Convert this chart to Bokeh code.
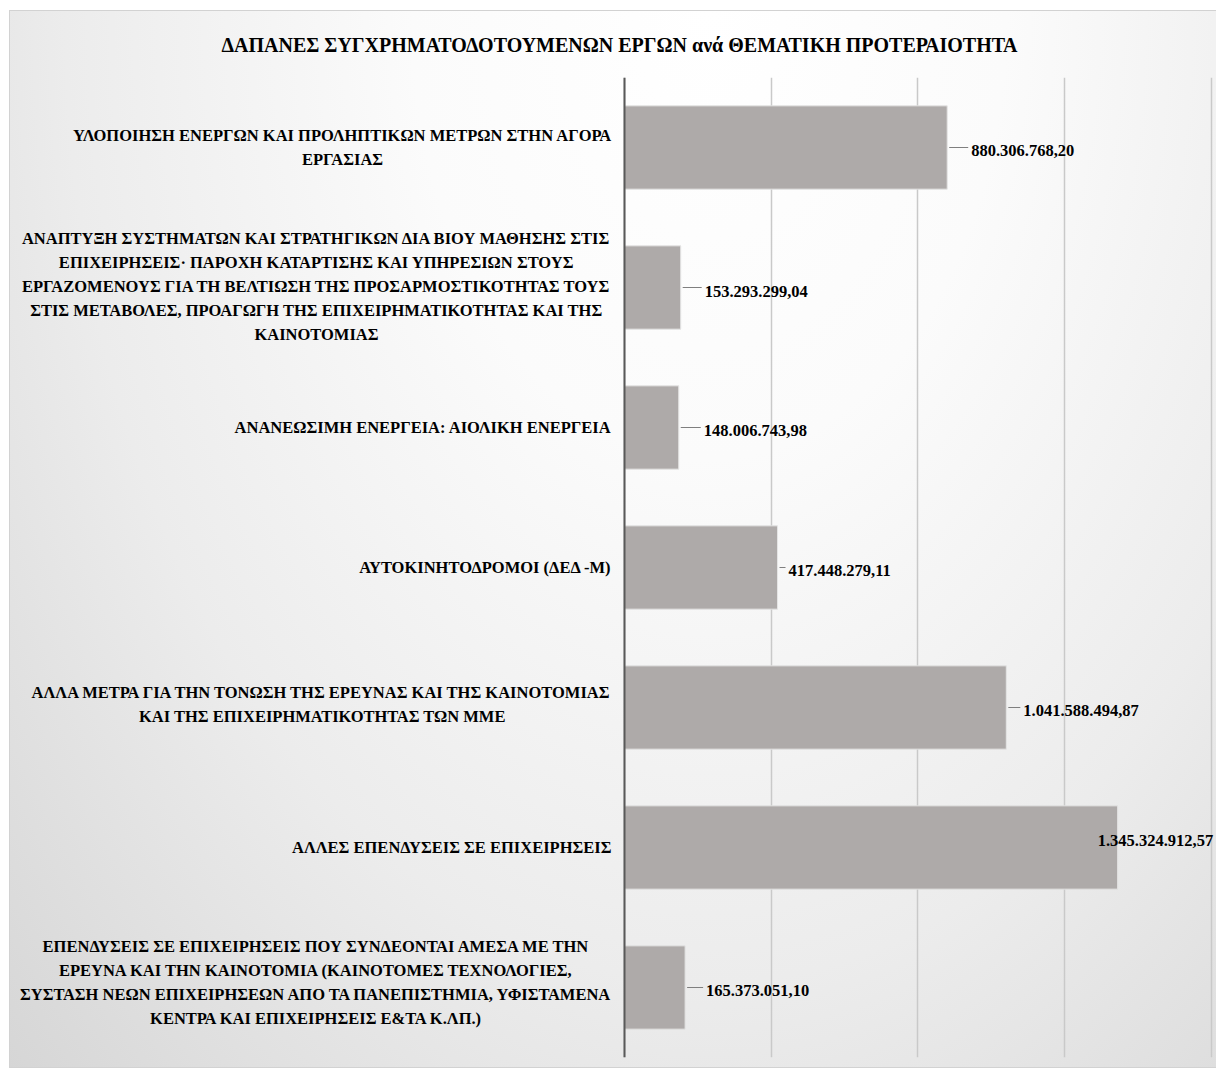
from bokeh.plotting import figure
from bokeh.models import FactorRange, Range1d, FixedTicker, ColumnDataSource, Span
from bokeh.embed import file_html
from bokeh.resources import INLINE

# ---------------- data ----------------
title_text = "ΔΑΠΑΝΕΣ ΣΥΓΧΡΗΜΑΤΟΔΟΤΟΥΜΕΝΩΝ ΕΡΓΩΝ ανά ΘΕΜΑΤΙΚΗ ΠΡΟΤΕΡΑΙΟΤΗΤΑ"

categories = [
    "ΥΛΟΠΟΙΗΣΗ ΕΝΕΡΓΩΝ ΚΑΙ ΠΡΟΛΗΠΤΙΚΩΝ ΜΕΤΡΩΝ ΣΤΗΝ ΑΓΟΡΑ\nΕΡΓΑΣΙΑΣ",
    "ΑΝΑΠΤΥΞΗ ΣΥΣΤΗΜΑΤΩΝ ΚΑΙ ΣΤΡΑΤΗΓΙΚΩΝ ΔΙΑ ΒΙΟΥ ΜΑΘΗΣΗΣ ΣΤΙΣ\n"
    "ΕΠΙΧΕΙΡΗΣΕΙΣ· ΠΑΡΟΧΗ ΚΑΤΑΡΤΙΣΗΣ ΚΑΙ ΥΠΗΡΕΣΙΩΝ ΣΤΟΥΣ\n"
    "ΕΡΓΑΖΟΜΕΝΟΥΣ ΓΙΑ ΤΗ ΒΕΛΤΙΩΣΗ ΤΗΣ ΠΡΟΣΑΡΜΟΣΤΙΚΟΤΗΤΑΣ ΤΟΥΣ\n"
    "ΣΤΙΣ ΜΕΤΑΒΟΛΕΣ, ΠΡΟΑΓΩΓΗ ΤΗΣ ΕΠΙΧΕΙΡΗΜΑΤΙΚΟΤΗΤΑΣ ΚΑΙ ΤΗΣ\n"
    "ΚΑΙΝΟΤΟΜΙΑΣ",
    "ΑΝΑΝΕΩΣΙΜΗ ΕΝΕΡΓΕΙΑ: ΑΙΟΛΙΚΗ ΕΝΕΡΓΕΙΑ",
    "ΑΥΤΟΚΙΝΗΤΟΔΡΟΜΟΙ (ΔΕΔ -Μ)",
    "ΑΛΛΑ ΜΕΤΡΑ ΓΙΑ ΤΗΝ ΤΟΝΩΣΗ ΤΗΣ ΕΡΕΥΝΑΣ ΚΑΙ ΤΗΣ ΚΑΙΝΟΤΟΜΙΑΣ\n"
    "ΚΑΙ ΤΗΣ ΕΠΙΧΕΙΡΗΜΑΤΙΚΟΤΗΤΑΣ ΤΩΝ ΜΜΕ",
    "ΑΛΛΕΣ ΕΠΕΝΔΥΣΕΙΣ ΣΕ ΕΠΙΧΕΙΡΗΣΕΙΣ",
    "ΕΠΕΝΔΥΣΕΙΣ ΣΕ ΕΠΙΧΕΙΡΗΣΕΙΣ ΠΟΥ ΣΥΝΔΕΟΝΤΑΙ ΑΜΕΣΑ ΜΕ ΤΗΝ\n"
    "ΕΡΕΥΝΑ ΚΑΙ ΤΗΝ ΚΑΙΝΟΤΟΜΙΑ (ΚΑΙΝΟΤΟΜΕΣ ΤΕΧΝΟΛΟΓΙΕΣ,\n"
    "ΣΥΣΤΑΣΗ ΝΕΩΝ ΕΠΙΧΕΙΡΗΣΕΩΝ ΑΠΟ ΤΑ ΠΑΝΕΠΙΣΤΗΜΙΑ, ΥΦΙΣΤΑΜΕΝΑ\n"
    "ΚΕΝΤΡΑ ΚΑΙ ΕΠΙΧΕΙΡΗΣΕΙΣ Ε&ΤΑ Κ.ΛΠ.)",
]

values = [
    880306768.20,
    153293299.04,
    148006743.98,
    417448279.11,
    1041588494.87,
    1345324912.57,
    165373051.10,
]

grid_ticks = [0, 400_000_000, 800_000_000, 1_200_000_000, 1_600_000_000]
x_max = 1_615_000_000


def greek_number(v):
    s = f"{v:,.2f}"
    return s.replace(",", "#").replace(".", ",").replace("#", ".")


value_labels = [greek_number(v) for v in values]

# ---------------- styles / layout ----------------
W, H = 1216, 1070
AXIS_PX = 624                      # pixel position of the value axis (x = 0)
BORDER_T, BORDER_B = 77, 13
units_per_px = x_max / (W - AXIS_PX)
x_min = -AXIS_PX * units_per_px    # the label column lives left of x = 0
FONT = "Liberation Serif"

# value labels: horizontal gap (px) from bar end, vertical nudge (px, + = down)
label_gap_px = [24, 24, 25, 11, 17, -20, 21]
label_dy_px = [3, 4, 3, 3, 3, -7, 3]

# category labels: block centre (px) for wrapped labels, right edge for single-line
cat_right_px = 611
cat_center_px = [342, 316, None, None, 322, None, 316]
cat_dy_px = [0, -1, 0, 0, -3, 0, -5]

src = ColumnDataSource(dict(cat=categories, value=values, label=value_labels,
                            dx=label_gap_px, dy=label_dy_px))

multi = [i for i, c in enumerate(cat_center_px) if c is not None]
single = [i for i, c in enumerate(cat_center_px) if c is None]
src_multi = ColumnDataSource(dict(
    cat=[categories[i] for i in multi],
    x=[(cat_center_px[i] - AXIS_PX) * units_per_px for i in multi],
    dy=[cat_dy_px[i] for i in multi],
))
src_single = ColumnDataSource(dict(
    cat=[categories[i] for i in single],
    x=[(cat_right_px - AXIS_PX) * units_per_px for i in single],
    dy=[cat_dy_px[i] for i in single],
))

lead_cats = [c for c, g in zip(categories, label_gap_px) if g > 8]
lead_x0 = [v + 2 * units_per_px for v, g in zip(values, label_gap_px) if g > 8]
lead_x1 = [v + (g - 3) * units_per_px for v, g in zip(values, label_gap_px) if g > 8]

p = figure(
    width=W, height=H,
    y_range=FactorRange(factors=list(reversed(categories)), range_padding=0),
    x_range=Range1d(x_min, x_max),
    output_backend="svg",
    toolbar_location=None,
    min_border_left=0, min_border_right=0,
    min_border_top=BORDER_T, min_border_bottom=BORDER_B,
)
p.y_range.factor_padding = 0

p.background_fill_color = None
p.border_fill_color = None
p.outline_line_color = None
LINE = "linear-gradient(#d2d2d2, #d2d2d2)"
p.styles = {
    "background": (
        f"{LINE} 9px 10px / 1px 1058px no-repeat, "
        f"{LINE} 9px 10px / 1207px 1px no-repeat, "
        f"{LINE} 9px 1067px / 1207px 1px no-repeat, "
        "radial-gradient(ellipse farthest-corner at 58% 0%, #ffffff 0%, #fbfbfb 30%, "
        "#ececec 65%, #d6d6d6 100%) 9px 10px / 1207px 1058px no-repeat, "
        "#ffffff"
    ),
}

# gridlines
p.xaxis.visible = False
p.yaxis.visible = False
p.xgrid.ticker = FixedTicker(ticks=grid_ticks)
p.xgrid.grid_line_color = "#c9c9c9"
p.xgrid.grid_line_width = 1.5
p.ygrid.visible = False

p.hbar(y="cat", right="value", height=0.595, left=0, source=src,
       fill_color="#aeaaa9", line_color="#e4e4e4", line_width=1)

# value axis line
p.add_layout(Span(location=0, dimension="height", line_color="#595959", line_width=2))

p.segment(x0=lead_x0, x1=lead_x1, y0=lead_cats, y1=lead_cats,
          line_color="#7f7f7f", line_width=1)

p.text(x="value", y="cat", text="label", source=src,
       x_offset="dx", y_offset="dy",
       text_align="left", text_baseline="middle",
       text_font_size="16.5px", text_font_style="bold",
       text_font={"value": FONT}, text_color="#000000")

# category labels (wrapped ones centred within their block, like the original)
common = dict(text_font={"value": FONT}, text_font_style="bold",
              text_font_size="16.5px", text_color="#000000",
              text_baseline="middle", text_line_height=1.26, y_offset="dy")
p.text(x="x", y="cat", text="cat", source=src_multi, text_align="center", **common)
p.text(x="x", y="cat", text="cat", source=src_single, text_align="right", **common)

# title
p.title.text = title_text
p.title.align = "left"
p.title.offset = 221
p.title.text_font = FONT
p.title.text_font_style = "bold"
p.title.text_font_size = "20px"
p.title.text_color = "#000000"
p.title.standoff = 44

open("out.html", "w").write(file_html(p, INLINE))
